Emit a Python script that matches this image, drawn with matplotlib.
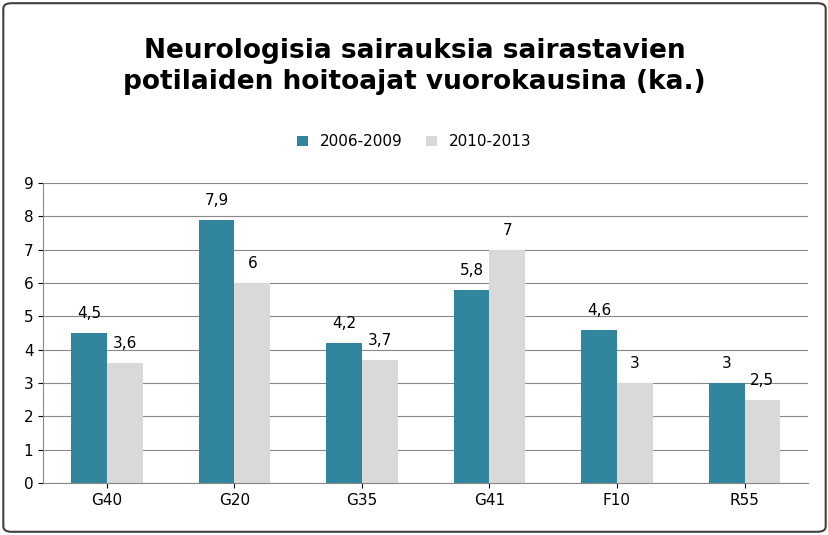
import matplotlib.pyplot as plt
from matplotlib.patches import FancyBboxPatch
import numpy as np

categories = ["G40", "G20", "G35", "G41", "F10", "R55"]
series_2006 = [4.5, 7.9, 4.2, 5.8, 4.6, 3]
series_2010 = [3.6, 6, 3.7, 7, 3, 2.5]
labels = ["2006-2009", "2010-2013"]

fig = plt.figure(figsize=(8.29, 5.35), dpi=100)
fig.patch.set_facecolor("white")
ax = fig.add_axes([0.052, 0.097, 0.923, 0.561])

x = np.arange(len(categories))
w = 0.28
b1 = ax.bar(x - w / 2, series_2006, w, color="#31859C", label=labels[0])
b2 = ax.bar(x + w / 2, series_2010, w, color="#D9D9D9", label=labels[1])

for bars, vals in ((b1, series_2006), (b2, series_2010)):
    for r, v in zip(bars, vals):
        ax.text(r.get_x() + r.get_width() / 2, v + 0.35, f"{v:g}".replace(".", ","),
                ha="center", va="bottom", fontsize=11)

ax.set_xlim(-0.5, len(categories) - 0.5)
ax.set_ylim(0, 9)
ax.set_yticks(range(10))
ax.set_xticks(x)
ax.set_xticklabels(categories)
ax.tick_params(labelsize=11)
ax.yaxis.grid(True, color="#888888", linewidth=0.8)
ax.set_axisbelow(True)
for s in ["top", "right"]:
    ax.spines[s].set_visible(False)
ax.spines["left"].set_color("#888888")
ax.spines["bottom"].set_color("#888888")

fig.text(0.5, 0.875, "Neurologisia sairauksia sairastavien\npotilaiden hoitoajat vuorokausina (ka.)",
         ha="center", va="center", fontsize=19, fontweight="bold", linespacing=1.25)
fig.legend(loc="center", bbox_to_anchor=(0.5, 0.735), ncol=2, frameon=False, fontsize=11,
           handlelength=0.7, handleheight=0.7, columnspacing=1.5)

border = FancyBboxPatch((0.004, 0.006), 0.992, 0.988, boxstyle="round,pad=0,rounding_size=0.01",
                        transform=fig.transFigure, fill=False, edgecolor="#404040", linewidth=1.5)
fig.patches.append(border)

fig.savefig("out.png", dpi=100)
